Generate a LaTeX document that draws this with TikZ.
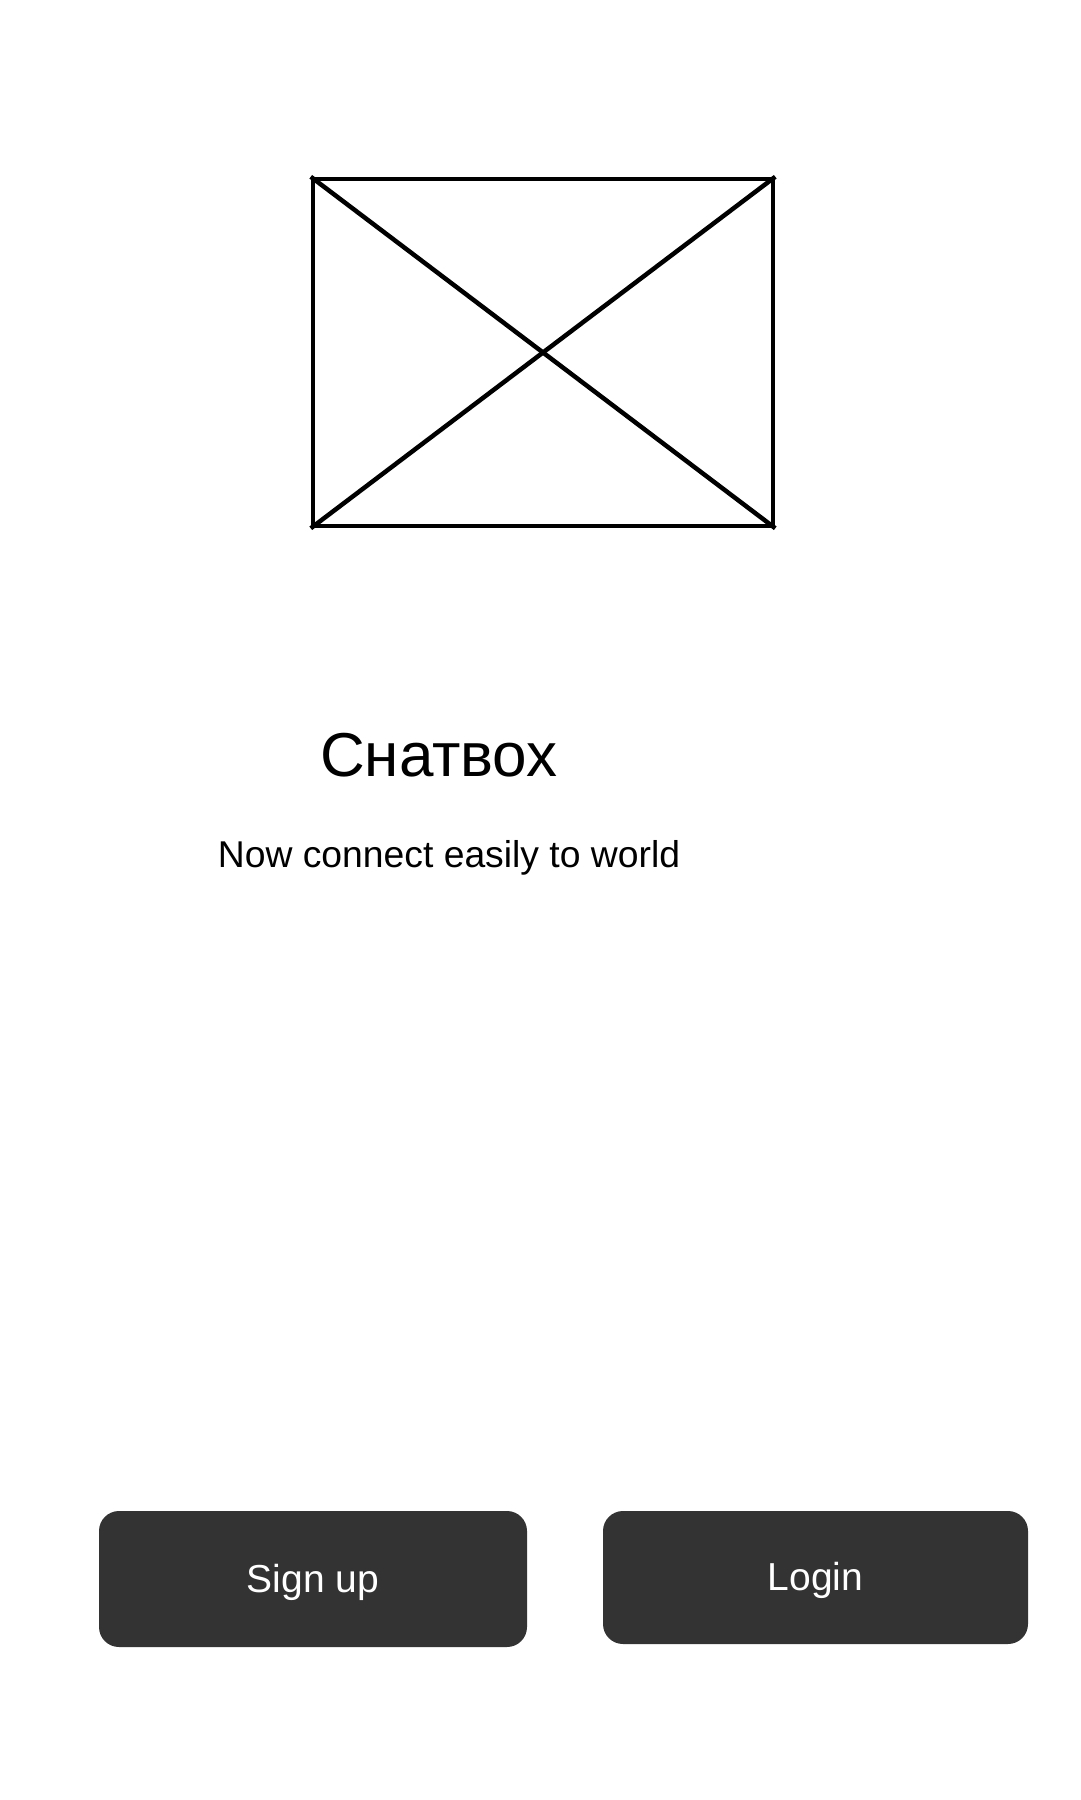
\documentclass[tikz,border=0pt]{standalone}
\usepackage{fontspec}
\setmainfont{Liberation Sans}
\definecolor{btngray}{HTML}{333333}
\tikzset{
  btn/.style={fill=btngray, text=white, rounded corners=20pt, inner sep=0pt,
    font=\fontsize{39}{44}\selectfont, text height=34pt, text depth=8pt},
  picbox/.style={draw=black, line width=4.5pt, inner sep=0pt,
    minimum width=460pt, minimum height=347pt}
}
\begin{document}
\begin{tikzpicture}[x=1pt,y=-1pt]
    \useasboundingbox (0,0) rectangle (1080,1800);
    \fill[white] (0,0) rectangle (1080,1800);
    \node[picbox] (pic) at (543,352.5) {};
    \draw[line width=4.5pt] (pic.north west) -- (pic.south east);
    \draw[line width=4.5pt] (pic.south west) -- (pic.north east);
    \node[anchor=base, font=\fontsize{62}{70}\selectfont] (title) at (439,776) {Снатвох};
    \node[anchor=base, font=\fontsize{37.3}{42}\selectfont] (tagline) at (449,867) {Now connect easily to world};
    \node[btn, minimum width=428pt, minimum height=136pt] (signup) at (313,1579) {Sign up};
    \node[btn, minimum width=425pt, minimum height=133pt] (login) at (815.5,1577.5) {Login};
\end{tikzpicture}
\end{document}
